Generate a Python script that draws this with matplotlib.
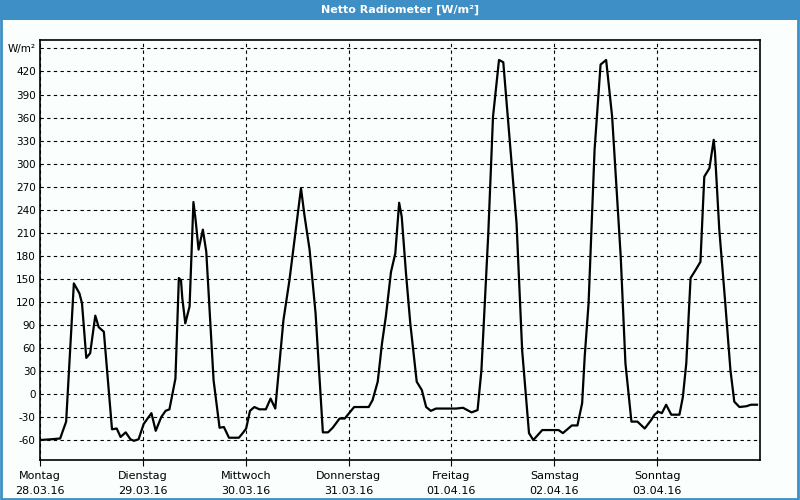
import matplotlib
matplotlib.use("Agg")
import matplotlib.pyplot as plt
from matplotlib.patches import Rectangle

# hours since Montag 28.03.16 00:00 and net radiation in W/m²
hours = [
    0, 2.6, 4.7, 6.1, 7.9, 9.2, 9.8, 10.8, 11.7, 12.9, 13.7, 14.9, 16.8, 17.9,
    18.8, 20, 21.1, 21.9, 23, 24.2,
    26, 27, 28.3, 29.3, 30.2, 31.6, 32.4, 32.9, 33.2, 33.9, 34.9, 35.8, 36.3,
    37, 38, 38.8, 40.5, 41.9, 42.9, 44.1, 46.4, 47.3,
    48.1, 49, 50, 51.2, 52.7, 53.8, 54.9, 56.8, 58.2, 60.9, 61.7, 62.9, 64.3,
    66, 67.2, 68.3, 69.9, 71.1,
    73.3, 76.7, 77.6, 78.8, 79.8, 80.7, 81.9, 82.9, 83.8, 84.4, 85.4, 86.4,
    87.9, 89.1, 90.1, 91.2, 92.4, 97.1,
    98.7, 100.7, 102.1, 103, 104.6, 105.7, 107.1, 108.1, 109.2, 111.2, 112.5,
    114.1, 115.1, 117.2, 120.1,
    121, 122, 124.1, 125.4, 126.5, 127.1, 128, 129.4, 130.8, 132.1, 133.5,
    135.5, 136.6, 138, 139.4, 141.1, 142.6, 143.4,
    144.2, 145.1, 146.1, 147.3, 149.2, 150, 150.8, 151.8, 152.7, 154.1, 155,
    156.2, 157.2, 157.5, 158.5, 159.9, 161.1, 162, 163.2, 164.8, 165.9, 167.3,
]
values = [
    -60, -59, -58, -36, 144, 131, 118, 47, 53, 102, 87, 81, -46, -45,
    -56, -50, -59, -61, -59, -39,
    -25, -48, -30, -22, -20, 20, 151, 148, 125, 92, 114, 250, 227,
    188, 214, 185, 18, -44, -43, -57, -57, -51,
    -45, -22, -17, -20, -20, -6, -19, 96, 148, 268, 233, 188, 105,
    -50, -50, -44, -32, -32,
    -17, -17, -8, 16, 66, 101, 159, 183, 249, 231, 157, 92,
    16, 5, -17, -22, -19, -19,
    -18, -24, -21, 31, 209, 361, 435, 432, 357, 222, 57,
    -51, -60, -47, -47,
    -47, -51, -41, -41, -12, 49, 118, 318, 429, 435, 361,
    179, 40, -36, -36, -45, -34, -27,
    -23, -25, -14, -27, -27, -4, 40, 151, 159, 172, 283,
    294, 331, 314, 214, 118, 31, -10, -17, -16, -14, -14,
]

day_names = ["Montag", "Dienstag", "Mittwoch", "Donnerstag", "Freitag", "Samstag", "Sonntag"]
day_dates = ["28.03.16", "29.03.16", "30.03.16", "31.03.16", "01.04.16", "02.04.16", "03.04.16"]
y_ticks = list(range(-60, 421, 30))
unit = "W/m²"

blue = "#3d8fc6"
bg = "#fafefc"

fig = plt.figure(figsize=(8, 5), dpi=100, facecolor=bg)
plt.rcParams["font.family"] = ["DejaVu Sans"]

# title bar and border
fig.patches.append(Rectangle((0, 0.96), 1, 0.04, transform=fig.transFigure,
                             facecolor=blue, edgecolor="none", zorder=0))
fig.patches.append(Rectangle((0.0015, 0.002), 0.996, 0.996, transform=fig.transFigure,
                             facecolor="none", edgecolor=blue, linewidth=2, zorder=5))
fig.text(0.5, 0.981, "Netto Radiometer [W/m²]", color="white", fontsize=8,
         fontweight="bold", ha="center", va="center")

ax = fig.add_axes([0.05, 0.08, 0.90, 0.84])
ax.set_facecolor(bg)
ax.plot(hours, values, color="black", linewidth=1.6, zorder=3)

ax.set_xlim(0, 168)
ax.set_ylim(-86, 461)

ax.set_yticks(y_ticks + [450])
ax.set_yticklabels([str(v) for v in y_ticks] + [unit])
ax.set_xticks([24 * i for i in range(7)])
ax.set_xticklabels([f"{n}\n{d}" for n, d in zip(day_names, day_dates)], linespacing=1.6)

ax.grid(True, color="black", linestyle=(0, (3, 3)), linewidth=0.8)
ax.tick_params(axis="both", length=0, colors="black")
ax.tick_params(axis="x", labelsize=8, length=4, pad=4, direction="out")
ax.tick_params(axis="y", labelsize=7.5, pad=3)
for s in ax.spines.values():
    s.set_linewidth(1.2)
    s.set_color("black")

fig.savefig("out.png", dpi=100, facecolor=bg)
